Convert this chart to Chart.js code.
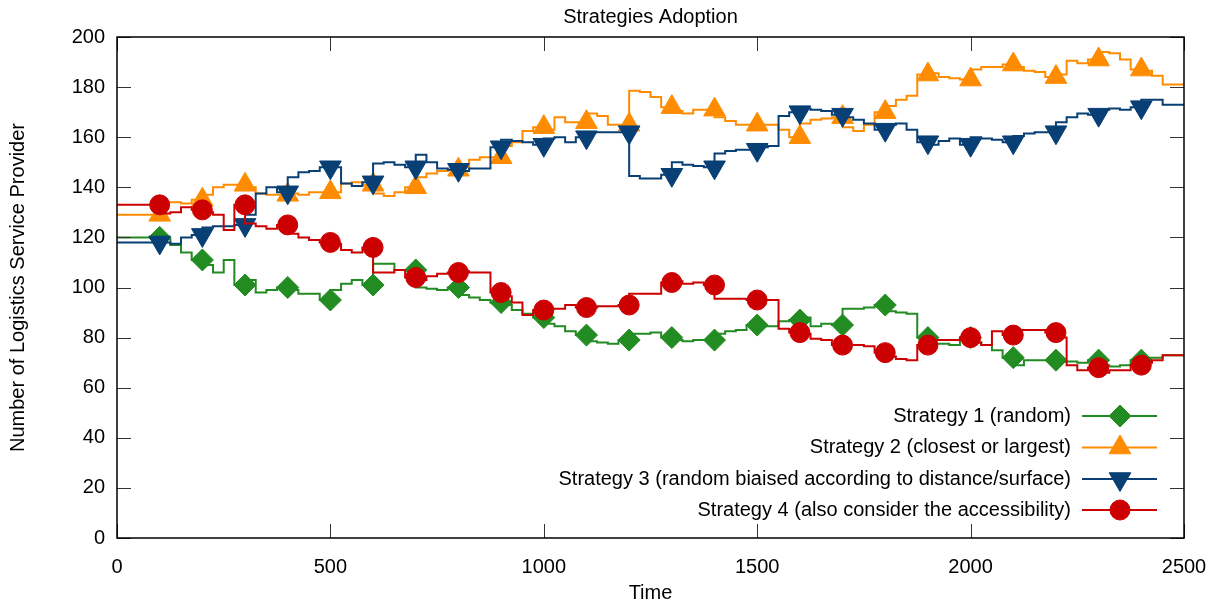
<!DOCTYPE html>
<html>
<head>
<meta charset="utf-8">
<title>Strategies Adoption</title>
<script src="https://cdn.jsdelivr.net/npm/chart.js@4.4.1/dist/chart.umd.min.js"></script>
<style>
  html, body { margin: 0; padding: 0; background: #fff; }
  #wrap { width: 1212px; height: 605px; }
</style>
</head>
<body>
<div id="wrap"><canvas id="adoption" width="1212" height="605"></canvas></div>
<script>
// sampling grid of the simulation (time steps every 25)
const times = Array.from({ length: 101 }, (_, i) => i * 25);

const strategy1 = [120, 120, 120, 120, 120, 119.5, 117, 114, 111, 109, 106, 111, 101, 103, 98, 99,
  100, 99, 97.5, 97.5, 95, 99, 101.5, 103, 101, 109.5, 109.5, 107, 107, 100, 99.5, 99,
  100, 97, 96, 95, 94, 93, 91, 89.5, 88, 85.5, 84.5, 82.5, 81, 78.5, 78, 77.5,
  79, 81.5, 81.5, 82, 80, 79, 78.5, 79, 79, 81.5, 82.5, 83, 85, 84.5, 84.5, 86.5,
  87, 88, 84.5, 85.5, 85, 91.5, 91.5, 92, 93, 90.5, 90, 89.5, 80, 77.5, 77.5, 77,
  80, 78, 77, 75, 72, 69, 71, 71, 71, 70.5, 70.5, 70, 71, 69, 68.5, 69,
  71, 72, 72, 73, 73];

const strategy2 = [129, 129, 129, 129, 129, 134, 134, 133.5, 135, 137, 140, 141, 141, 140, 137.5, 137,
  137, 137.5, 137, 138, 138, 138, 141.5, 142, 141, 137.5, 136.5, 138, 140, 144, 145.5, 146.5,
  147, 148, 151, 152, 152, 156.5, 158, 162.5, 164, 163, 168, 166, 166, 169.5, 168.5, 165,
  165, 178.5, 178, 176, 172, 170.5, 169.5, 171, 171, 168, 166.5, 165, 165, 165, 165, 163,
  160, 165.5, 167, 167.5, 168, 164, 162.5, 165, 170, 172.5, 175, 176.5, 185, 185.5, 184, 183.5,
  183, 187, 188, 188, 189, 188, 186.5, 186, 184, 185, 190.5, 189.5, 191, 194, 193.5, 191,
  187, 186.5, 184.5, 181, 181];

const strategy3 = [118, 118, 118, 118, 118, 118, 117.5, 120, 121, 124, 124.5, 124.5, 125, 129, 137.5, 140,
  138, 144, 146, 146.5, 148, 148, 141.5, 140.5, 142, 149.5, 150, 149, 148, 153, 150, 147.5,
  147, 146.5, 147.5, 147.5, 156, 159, 158.5, 158, 157, 159.5, 160, 158, 160, 162, 162, 162,
  162, 144.5, 143.5, 143.5, 145, 150, 149, 148.5, 148, 153.5, 154.5, 155, 155, 156, 156.5, 168.5,
  170, 171.5, 171, 170.5, 169, 168, 167, 165.5, 163, 165, 165.5, 163, 158, 157, 158.5, 159.5,
  157, 160, 159.5, 159, 158, 160.5, 161.5, 162, 162, 166, 168, 169.5, 169, 171, 171.5, 171,
  172, 175, 175, 173, 173];

const strategy4 = [133, 133, 133, 133, 133, 129.5, 130, 132, 131, 130, 129, 123, 133, 125.5, 124.5, 123.5,
  125, 121.5, 120, 119, 118, 117.5, 115, 114, 116, 106, 106, 107, 104, 103, 104.5, 105.5,
  106, 106.5, 106, 106, 98, 96.5, 94, 89, 91, 91.5, 91.5, 93, 92, 92, 92.5, 92.5,
  93, 97.5, 97.5, 97.5, 102, 102.5, 101.5, 102, 101, 95.5, 95.5, 95.5, 95, 95, 95, 83.5,
  82, 81.5, 79.5, 79, 77, 77, 77, 76.5, 74, 72.5, 71.5, 71, 77, 79, 79, 79,
  80, 78, 77, 82.5, 81, 83, 83, 83, 82, 80, 69, 67, 68, 66, 67, 67,
  69, 70, 71, 73, 73];

const seriesNames = [
  "Strategy 1 (random)",
  "Strategy 2 (closest or largest)",
  "Strategy 3 (random biaised according to distance/surface)",
  "Strategy 4 (also consider the accessibility)"
];
const seriesValues = [strategy1, strategy2, strategy3, strategy4];
const seriesColors = ["#228b22", "#ff8c00", "#083f75", "#cc0000"];
const seriesMarks = [
  { style: "rectRot", radius: 11, rotation: 0 },
  { style: "triangle", radius: 12.5, rotation: 0 },
  { style: "triangle", radius: 12.5, rotation: 180 },
  { style: "circle", radius: 10, rotation: 0 }
];

const xTicks = [0, 500, 1000, 1500, 2000, 2500];
const yTicks = [0, 20, 40, 60, 80, 100, 120, 140, 160, 180, 200];

const FONT = '"Liberation Sans", Arial, sans-serif';

// a mark every 100 time units, from 100 to 2400
function markRadius(r) {
  return ctx => {
    const t = times[ctx.dataIndex];
    return (t % 100 === 0 && t >= 100 && t <= 2400) ? r : 0;
  };
}

const datasets = seriesValues.map((vals, i) => ({
  label: seriesNames[i],
  data: times.map((t, k) => ({ x: t, y: vals[k] })),
  borderColor: seriesColors[i],
  backgroundColor: seriesColors[i],
  borderWidth: 2,
  stepped: "after",
  pointStyle: seriesMarks[i].style,
  pointRotation: seriesMarks[i].rotation,
  pointRadius: markRadius(seriesMarks[i].radius),
  pointBorderWidth: 1,
  pointBorderColor: seriesColors[i],
  pointBackgroundColor: seriesColors[i],
  order: 4 - i
}));

// frame, inward ticks on all sides, titles and the legend box
const decorations = {
  id: "decorations",
  afterDatasetsDraw(chart) {
    const { ctx, chartArea: a, scales } = chart;
    ctx.save();
    ctx.strokeStyle = "#333";
    ctx.lineWidth = 1;
    const tick = 14;
    ctx.beginPath();
    xTicks.forEach(v => {
      const x = Math.round(scales.x.getPixelForValue(v)) + 0.5;
      ctx.moveTo(x, a.bottom); ctx.lineTo(x, a.bottom - tick);
      ctx.moveTo(x, a.top); ctx.lineTo(x, a.top + tick);
    });
    yTicks.forEach(v => {
      const y = Math.round(scales.y.getPixelForValue(v)) + 0.5;
      ctx.moveTo(a.left, y); ctx.lineTo(a.left + tick, y);
      ctx.moveTo(a.right, y); ctx.lineTo(a.right - tick, y);
    });
    ctx.stroke();

    ctx.strokeStyle = "#000";
    ctx.lineWidth = 1.5;
    ctx.strokeRect(a.left, a.top, a.right - a.left, a.bottom - a.top);

    ctx.fillStyle = "#000";
    ctx.font = "20px " + FONT;
    ctx.textAlign = "center";
    ctx.textBaseline = "middle";
    const cx = (a.left + a.right) / 2;
    ctx.fillText("Strategies Adoption", cx, 17);
    ctx.fillText("Time", cx, 593);
    ctx.save();
    ctx.translate(18, (a.top + a.bottom) / 2);
    ctx.rotate(-Math.PI / 2);
    ctx.fillText("Number of Logistics Service Provider", 0, 0);
    ctx.restore();

    // legend, bottom right inside the plot
    const rowY = [416, 447.5, 479, 510];
    ctx.textAlign = "right";
    seriesNames.forEach((name, i) => {
      const y = rowY[i];
      ctx.fillStyle = "#000";
      ctx.fillText(name, 1071, y);
      ctx.strokeStyle = seriesColors[i];
      ctx.lineWidth = 2;
      ctx.beginPath();
      ctx.moveTo(1082, y); ctx.lineTo(1157, y);
      ctx.stroke();
      ctx.fillStyle = seriesColors[i];
      ctx.strokeStyle = seriesColors[i];
      ctx.lineWidth = 1;
      Chart.helpers.drawPoint(ctx, {
        pointStyle: seriesMarks[i].style,
        radius: seriesMarks[i].radius,
        rotation: seriesMarks[i].rotation,
        borderWidth: 1
      }, 1120, y);
    });
    ctx.restore();
  }
};

new Chart(document.getElementById("adoption").getContext("2d"), {
  type: "line",
  data: { datasets: datasets },
  options: {
    responsive: false,
    animation: false,
    events: [],
    layout: { padding: { left: 0, right: 28, top: 37, bottom: 0 } },
    plugins: {
      legend: { display: false },
      title: { display: false },
      tooltip: { enabled: false }
    },
    scales: {
      x: {
        type: "linear",
        min: 0,
        max: 2500,
        afterBuildTicks: s => { s.ticks = xTicks.map(v => ({ value: v })); },
        afterFit: s => { s.height = 67; s.paddingLeft = 0; s.paddingRight = 0; },
        grid: { display: false },
        border: { display: false },
        ticks: {
          color: "#000", padding: 9, maxRotation: 0,
          font: { family: FONT, size: 20 },
          callback: v => String(v)
        }
      },
      y: {
        min: 0,
        max: 200,
        afterBuildTicks: s => { s.ticks = yTicks.map(v => ({ value: v })); },
        afterFit: s => { s.width = 117; s.paddingTop = 0; s.paddingBottom = 0; },
        grid: { display: false },
        border: { display: false },
        ticks: {
          color: "#000", padding: 4,
          font: { family: FONT, size: 20 },
          callback: v => String(v)
        }
      }
    }
  },
  plugins: [decorations]
});
</script>
</body>
</html>
